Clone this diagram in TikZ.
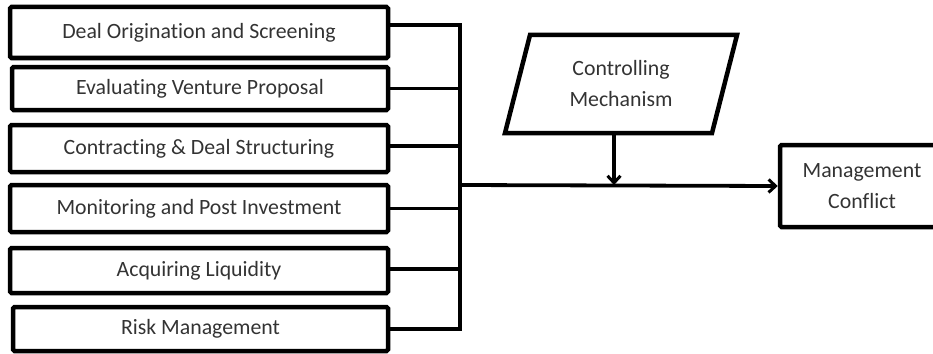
\documentclass[tikz,border=0pt]{standalone}
\usepackage{fontspec}
\setmainfont[Ligatures={NoCommon}]{Carlito}
\usetikzlibrary{arrows.meta}
\begin{document}
\begin{tikzpicture}[x=1pt,y=-1pt,
  lbox/.style={draw, line width=4.5pt, rounded corners=1.5pt, minimum height=#1, inner sep=0pt, font=\fontsize{21.8}{24}\selectfont, text=black!80},
  conn/.style={line width=3.8pt},
  txt/.style={font=\fontsize{21.8}{31}\selectfont, text=black!80, align=center}]
\useasboundingbox (0,0) rectangle (933,353);
% left boxes
\node[lbox=51, minimum width=378] (b1) at (199,32.5) {Deal Origination and Screening};
\node[lbox=43, minimum width=376] (b2) at (200,88.5) {Evaluating Venture Proposal};
\node[lbox=47, minimum width=378] (b3) at (199,148.5) {Contracting \& Deal Structuring};
\node[lbox=47, minimum width=378] (b4) at (199,208.5) {Monitoring and Post Investment};
\node[lbox=45, minimum width=378] (b5) at (199,270.5) {Acquiring Liquidity};
\node[lbox=44, minimum width=375] (b6) at (200.5,329) {Risk Management};
% bus
\coordinate (bt) at (460,25);
\coordinate (bb) at (460,329);
\coordinate (bj) at (460,185);
\draw[conn, line join=miter] ([yshift=7.5pt]b1.east) -- (bt) -- (bb) -- (b6.east);
\draw[conn] (b2.east) -- (b2.east -| bt);
\draw[conn] ([yshift=2.5pt]b3.east) -- ([yshift=2.5pt]b3.east -| bt);
\draw[conn] (b4.east) -- (b4.east -| bt);
\draw[conn] ([yshift=1.5pt]b5.east) -- ([yshift=1.5pt]b5.east -| bt);
% controlling mechanism
\node[txt, minimum height=98, minimum width=180] (cm) at (621,84) {Controlling\\Mechanism};
\draw[line width=4.5pt, line join=miter] (530,35) -- (737,35) -- (712,133) -- (505,133) -- cycle;
% management conflict
\node[lbox=82, minimum width=176, txt, text width=176pt, align=left] (mc) at (868,186) {\makebox[164pt]{Management}\\\makebox[164pt]{Conflict}};
\draw[conn, -{Straight Barb[length=7pt,width=13pt,line width=3pt]}] (bj) -- (mc.west);
\draw[conn, -{Straight Barb[length=7pt,width=13pt,line width=3pt]}] ([xshift=-7pt]cm.south) -- ([xshift=-7pt]cm.south |- bj);
\end{tikzpicture}
\end{document}
